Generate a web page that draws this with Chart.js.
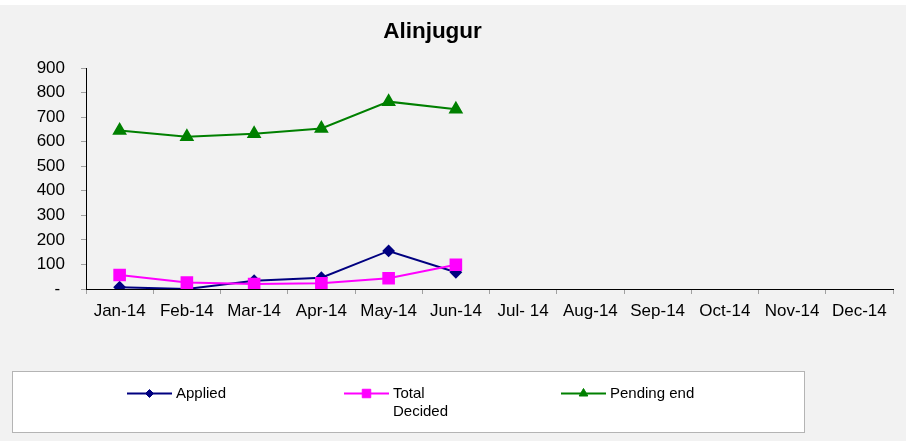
<!DOCTYPE html>
<html>
<head>
<meta charset="utf-8">
<script src="https://cdn.jsdelivr.net/npm/chart.js@4.4.1/dist/chart.umd.min.js"></script>
<style>
  html, body { margin: 0; padding: 0; background: #ffffff; }
  #wrap { width: 907px; height: 441px; position: relative; }
  canvas { display: block; }
</style>
</head>
<body>
<div id="wrap"><canvas id="c" width="907" height="441"></canvas></div>
<script>
const chartTitle = 'Alinjugur';
const categories = ['Jan-14','Feb-14','Mar-14','Apr-14','May-14','Jun-14','Jul- 14','Aug-14','Sep-14','Oct-14','Nov-14','Dec-14'];
const applied      = [7, 0, 34, 46, 155, 68, null, null, null, null, null, null];
const totalDecided = [57, 26, 20, 23, 44, 99, null, null, null, null, null, null];
const pendingEnd   = [645, 620, 632, 654, 763, 732, null, null, null, null, null, null];
const seriesNames  = ['Applied', 'Total Decided', 'Pending end'];
const yTicks = [0, 100, 200, 300, 400, 500, 600, 700, 800, 900];

const FONT = '"Liberation Sans", Arial, Helvetica, sans-serif';

const bgPlugin = {
  id: 'bg',
  beforeDraw(chart) {
    const ctx = chart.ctx;
    ctx.save();
    ctx.fillStyle = '#ffffff';
    ctx.fillRect(0, 0, chart.width, chart.height);
    ctx.fillStyle = '#f2f2f2';
    ctx.fillRect(0, 5, chart.width - 1, chart.height - 5);
    ctx.restore();
  }
};

const titleShift = {
  id: 'titleShift',
  afterLayout(chart) {
    if (chart.titleBlock) {
      chart.titleBlock.left = 0;
      chart.titleBlock.right = 865;
    }
  }
};

const legendPlugin = {
  id: 'boxLegend',
  afterDraw(chart) {
    const ctx = chart.ctx;
    ctx.save();
    ctx.fillStyle = '#ffffff';
    ctx.fillRect(12.5, 371.5, 792, 61);
    ctx.strokeStyle = '#b4b4b4';
    ctx.lineWidth = 1;
    ctx.strokeRect(12.5, 371.5, 792, 61);
    ctx.font = '15px ' + FONT;
    ctx.textBaseline = 'middle';
    ctx.textAlign = 'left';
    chart.data.datasets.forEach((ds, i) => {
      const x0 = 127 + i * 217;
      const y0 = 393.5;
      ctx.strokeStyle = ds.borderColor;
      ctx.lineWidth = 2;
      ctx.beginPath();
      ctx.moveTo(x0, y0);
      ctx.lineTo(x0 + 45, y0);
      ctx.stroke();
      ctx.fillStyle = ds.backgroundColor;
      ctx.strokeStyle = ds.borderColor;
      ctx.lineWidth = 1;
      Chart.helpers.drawPoint(ctx, {
        pointStyle: ds.pointStyle,
        radius: ds.legendRadius,
        rotation: 0,
        borderWidth: 1
      }, x0 + 22.5, y0);
      const words = ds.label.split(' ');
      const lines = [];
      let cur = '';
      words.forEach(w => {
        const test = cur ? cur + ' ' + w : w;
        if (ctx.measureText(test).width > 88 && cur) { lines.push(cur); cur = w; }
        else cur = test;
      });
      if (cur) lines.push(cur);
      ctx.fillStyle = '#000000';
      lines.forEach((ln, k) => ctx.fillText(ln, x0 + 49, y0 + k * 18));
    });
    ctx.restore();
  }
};

const chart = new Chart(document.getElementById('c'), {
  type: 'line',
  data: {
    labels: categories,
    datasets: [
      {
        label: seriesNames[0], data: applied,
        borderColor: '#000080', backgroundColor: '#000080',
        pointStyle: 'rectRot', pointRadius: 5, legendRadius: 4,
        pointBorderColor: '#000080', pointBackgroundColor: '#000080',
        borderWidth: 2, order: 3, spanGaps: false
      },
      {
        label: seriesNames[1], data: totalDecided,
        borderColor: '#ff00ff', backgroundColor: '#ff00ff',
        pointStyle: 'rect', pointRadius: 7.5, legendRadius: 6,
        pointBorderColor: '#ff00ff', pointBackgroundColor: '#ff00ff',
        borderWidth: 2, order: 2, spanGaps: false
      },
      {
        label: seriesNames[2], data: pendingEnd,
        borderColor: '#008000', backgroundColor: '#008000',
        pointStyle: 'triangle', pointRadius: 6.5, legendRadius: 5,
        pointBorderColor: '#008000', pointBackgroundColor: '#008000',
        borderWidth: 2, order: 1, spanGaps: false
      }
    ]
  },
  options: {
    responsive: false,
    animation: false,
    devicePixelRatio: 1,
    layout: { padding: { top: 5, left: 0, right: 14, bottom: 0 } },
    elements: { line: { tension: 0 } },
    plugins: {
      legend: { display: false },
      tooltip: { enabled: false },
      title: {
        display: true,
        text: chartTitle,
        color: '#000000',
        font: { family: FONT, size: 22.5, weight: 'bold' },
        padding: { top: 13.5, bottom: 22.5 }
      }
    },
    scales: {
      x: {
        type: 'category',
        offset: true,
        grid: { display: true, drawOnChartArea: false, drawTicks: true, tickLength: 5, color: '#a0a0a0', offset: true },
        border: { display: true, color: '#000000', width: 1 },
        ticks: { color: '#000000', font: { family: FONT, size: 17 }, autoSkip: false, maxRotation: 0, minRotation: 0, padding: 7 },
        afterFit(scale) { scale.height = 152; }
      },
      y: {
        min: 0, max: 900,
        afterBuildTicks(scale) { scale.ticks = yTicks.map(v => ({ value: v })); },
        grid: { display: true, drawOnChartArea: false, drawTicks: true, tickLength: 5, color: '#a0a0a0' },
        border: { display: true, color: '#000000', width: 1 },
        ticks: {
          color: '#000000', font: { family: FONT, size: 17 }, padding: 16,
          callback: (v) => v === 0 ? '- ' : String(v)
        },
        afterFit(scale) { scale.width = 86; }
      }
    }
  },
  plugins: [bgPlugin, titleShift, legendPlugin]
});
</script>
</body>
</html>
